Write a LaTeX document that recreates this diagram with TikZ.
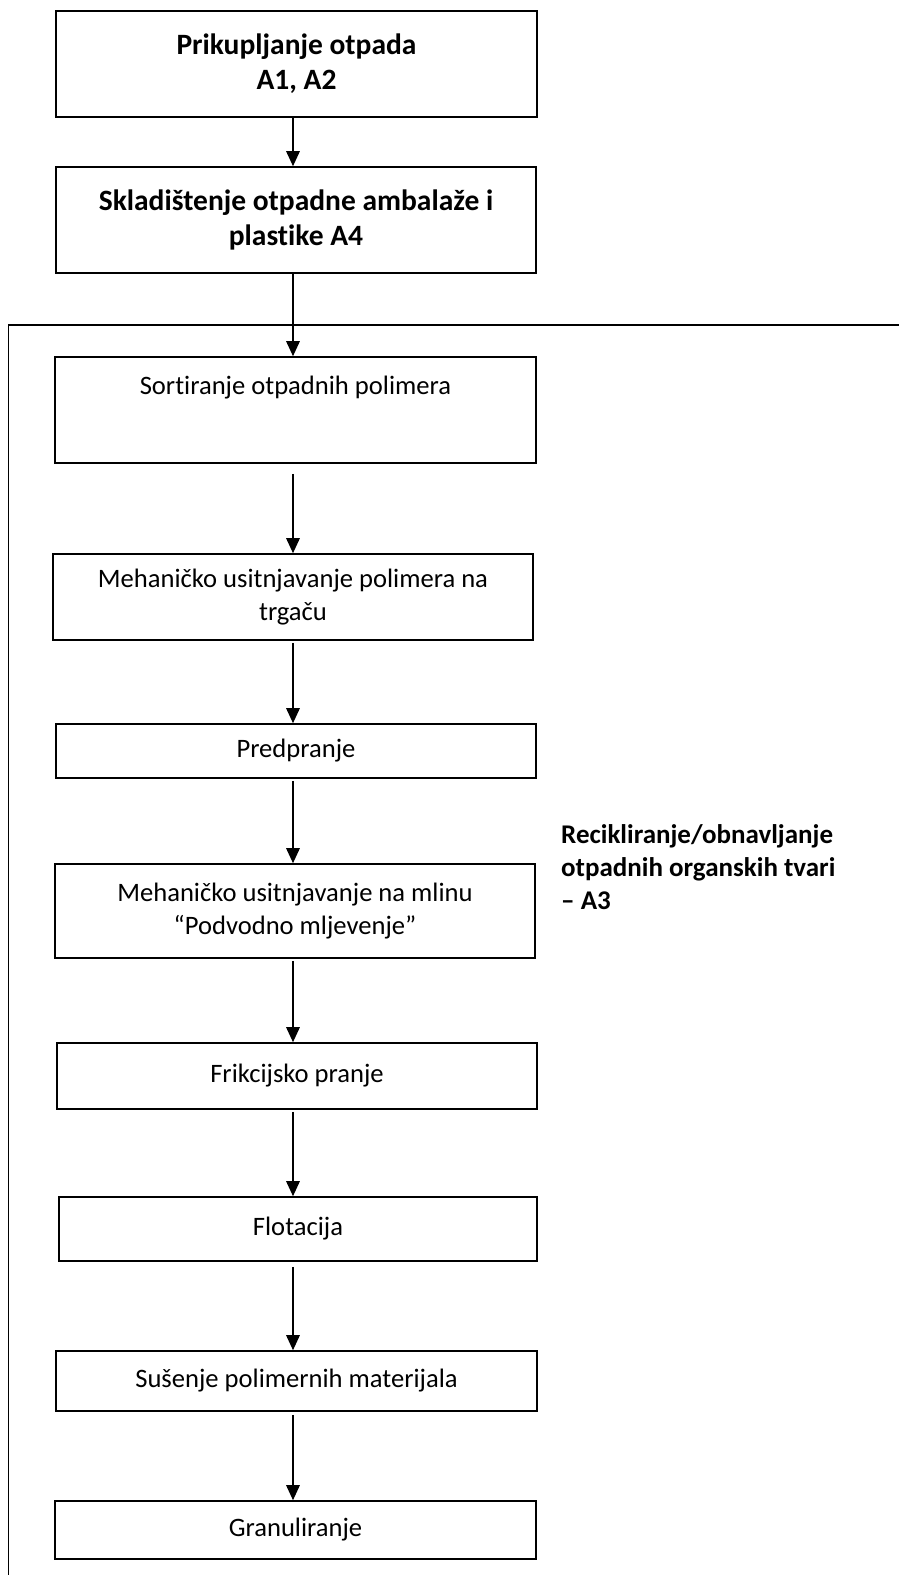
\documentclass[tikz,border=0pt]{standalone}
\usepackage{fontspec}
\setmainfont{Carlito}[Ligatures=NoCommon]
\usetikzlibrary{arrows.meta}
\begin{document}
\begin{tikzpicture}[x=1pt,y=-1pt,
  box/.style={draw, line width=1.6pt, inner sep=0pt, align=center, anchor=center,
    font=\fontsize{26.6}{33}\selectfont},
  boldbox/.style={box, font=\fontsize{29.5}{35}\selectfont\bfseries},
  arr/.style={line width=1.4pt, -{Triangle[length=15pt,width=13.5pt]}},
  frame/.style={line width=1.6pt}]
\useasboundingbox (0,0) rectangle (899,1575);
\coordinate (ax) at (293,0);
\node[boldbox, minimum width=481pt, minimum height=106pt] (b1) at (296.5,64) {Prikupljanje otpada\\A1, A2};
\node[boldbox, minimum width=480pt, minimum height=106pt] (b2) at (296,220) {Skladištenje otpadne ambalaže i\\plastike A4};
\node[box, minimum width=481pt, minimum height=106pt] (b3) at (295.5,410) {Sortiranje otpadnih polimera\\[16pt]\mbox{}};
\node[box, minimum width=480pt, minimum height=86pt] (b4) at (293,597) {Mehaničko usitnjavanje polimera na\\trgaču};
\node[box, minimum width=480pt, minimum height=54pt] (b5) at (296,751) {Predpranje};
\node[box, minimum width=480pt, minimum height=94pt] (b6) at (295,911) {Mehaničko usitnjavanje na mlinu\\“Podvodno mljevenje”};
\node[box, minimum width=480pt, minimum height=66pt] (b7) at (297,1076) {Frikcijsko pranje};
\node[box, minimum width=478pt, minimum height=64pt] (b8) at (298,1229) {Flotacija};
\node[box, minimum width=481pt, minimum height=60pt] (b9) at (296.5,1381) {Sušenje polimernih materijala};
\node[box, minimum width=481pt, minimum height=58pt] (b10) at (295.5,1530) {Granuliranje};
\node[anchor=west, inner sep=0pt, align=left, font=\fontsize{27}{33}\selectfont\bfseries] (lab) at (561,867) {Recikliranje/obnavljanje\\otpadnih organskih tvari\\– A3};
\coordinate (fbl) at (8.5,1580);
\coordinate (ftl) at (8.5,325);
\coordinate (ftr) at (905,325);
\draw[frame] (fbl) -- (ftl) -- (ftr);
\draw[arr] (b1.south -| ax) -- (b2.north -| ax);
\draw[arr] (b2.south -| ax) -- (b3.north -| ax);
\draw[arr] ([yshift=-10pt]b3.south -| ax) -- (b4.north -| ax);
\draw[arr] ([yshift=-2pt]b4.south -| ax) -- (b5.north -| ax);
\draw[arr] ([yshift=-2pt]b5.south -| ax) -- (b6.north -| ax);
\draw[arr] ([yshift=-2pt]b6.south -| ax) -- (b7.north -| ax);
\draw[arr] ([yshift=-2pt]b7.south -| ax) -- (b8.north -| ax);
\draw[arr] ([yshift=-5pt]b8.south -| ax) -- (b9.north -| ax);
\draw[arr] ([yshift=-3pt]b9.south -| ax) -- (b10.north -| ax);
\end{tikzpicture}
\end{document}
